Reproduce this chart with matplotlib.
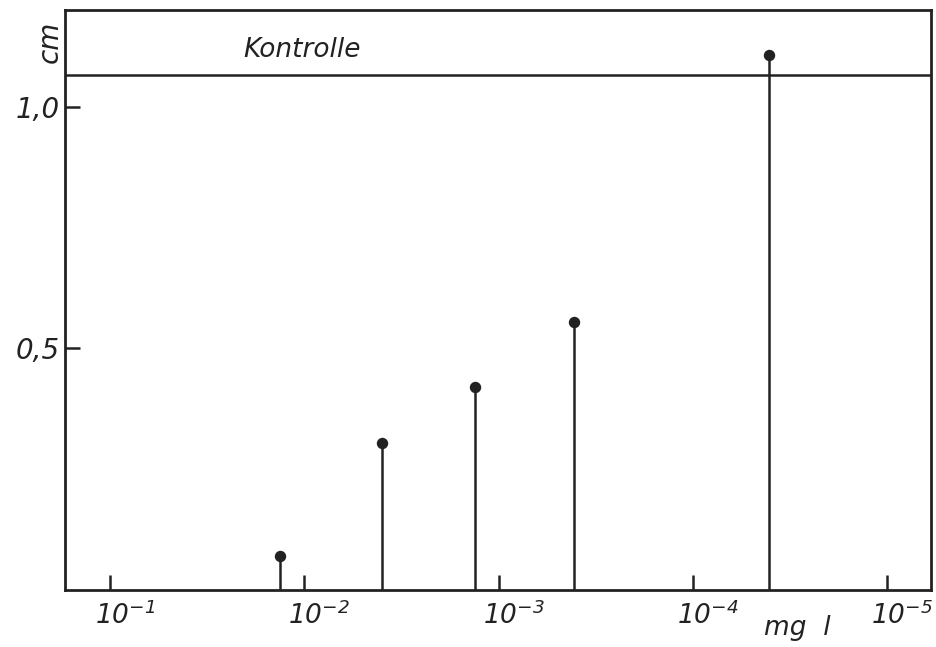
import matplotlib
matplotlib.use("Agg")
import matplotlib.pyplot as plt
from matplotlib.transforms import ScaledTranslation

# data
conc_mg_l = [1.33e-2, 4.0e-3, 1.33e-3, 4.1e-4, 4.05e-5]
length_cm = [0.070, 0.304, 0.419, 0.554, 1.107]
kontrolle_cm = 1.066
xtick_vals = [1e-1, 1e-2, 1e-3, 1e-4, 1e-5]
xtick_labels = [r"$10^{-1}$", r"$10^{-2}$", r"$10^{-3}$", r"$10^{-4}$", r"$10^{-5}$"]
ytick_vals = [0.5, 1.0]
ytick_labels = ["0,5", "1,0"]

plt.rcParams['mathtext.fontset'] = 'custom'
plt.rcParams['mathtext.rm'] = 'DejaVu Sans:italic'
plt.rcParams['mathtext.it'] = 'DejaVu Sans:italic'
plt.rcParams['mathtext.sf'] = 'DejaVu Sans:italic'
plt.rcParams['mathtext.default'] = 'it'

fig = plt.figure(figsize=(9.37, 6.47), dpi=100)
ax = fig.add_axes([0.0694, 0.0881, 0.9242, 0.8964])

ax.set_xscale('log')
ax.set_xlim(0.1706, 5.95e-6)
ax.set_ylim(0, 1.2)

ax.vlines(conc_mg_l, 0, length_cm, color='#222222', lw=1.8)
ax.plot(conc_mg_l, length_cm, 'o', color='#222222', ms=7.2, ls='none')
ax.axhline(kontrolle_cm, color='#222222', lw=1.8)
ax.text(1.03e-2, kontrolle_cm + 0.025, "Kontrolle", fontsize=19, style='italic',
        color='#222222', ha='center', va='bottom')

for s in ax.spines.values():
    s.set_linewidth(2.0)
    s.set_color('#222222')

ax.set_xticks(xtick_vals)
ax.set_xticklabels(xtick_labels)
ax.xaxis.set_minor_locator(matplotlib.ticker.NullLocator())
ax.set_yticks(ytick_vals)
ax.set_yticklabels(ytick_labels)
ax.tick_params(axis='both', which='major', direction='in', length=11, width=1.8,
               color='#222222', labelcolor='#222222', labelsize=19)
ax.tick_params(axis='x', pad=8)
ax.tick_params(axis='y', pad=4, labelsize=20)
for lab in ax.get_yticklabels():
    lab.set_fontstyle('italic')

offset = ScaledTranslation(15 / 100, 0, fig.dpi_scale_trans)
for lab in ax.get_xticklabels():
    lab.set_transform(lab.get_transform() + offset)

fig.text(50 / 937, 1 - 42 / 647, "cm", rotation=90, fontsize=20, style='italic',
         color='#222222', ha='center', va='center')
fig.text(797 / 937, 1 - 628 / 647, "mg  l", fontsize=19, style='italic',
         color='#222222', ha='center', va='center')

fig.savefig("out.png", dpi=100)
